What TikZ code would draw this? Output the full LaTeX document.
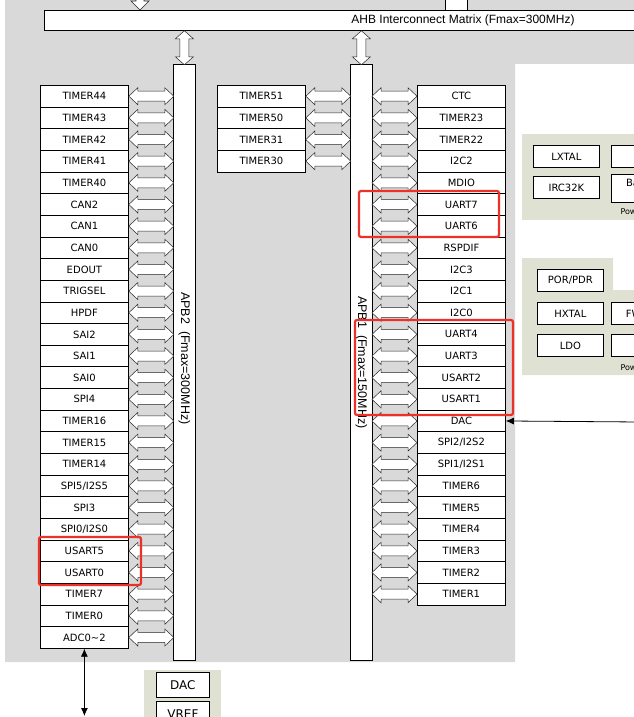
\documentclass[tikz,border=0pt]{standalone}
\usepackage{fontspec}
\setmainfont{Liberation Sans}
\newfontfamily\boxfont{DejaVu Sans}
\usetikzlibrary{arrows.meta}

\definecolor{bggray}{RGB}{217,217,217}
\definecolor{panelgreen}{RGB}{223,226,211}
\definecolor{hired}{RGB}{234,50,40}

\tikzset{
  periph/.style={draw=black, line width=0.8pt, fill=white, anchor=north west,
    minimum width=88pt, minimum height=21.65pt, inner sep=0pt,
    font=\boxfont\fontsize{10}{11}\selectfont},
  busbar/.style={draw=black, line width=0.8pt, fill=white, anchor=north west,
    minimum width=22pt, minimum height=596pt, inner sep=0pt},
  buslabel/.style={rotate=-90, font=\fontsize{12.5}{13}\selectfont},
  hollow/.style={draw=black!85, line width=0.5pt, fill=white},
  smallbox/.style={draw=black, line width=0.8pt, fill=white, anchor=north west,
    minimum width=66pt, minimum height=22pt, inner sep=0pt,
    font=\boxfont\fontsize{10}{11}\selectfont},
  hilite/.style={draw=hired, line width=2.2pt, rounded corners=2pt},
  tinytext/.style={font=\boxfont\fontsize{8}{9}\selectfont, anchor=west}
}

% hollow double arrows, horizontal and vertical
\newcommand\dualarrow[1]{\draw[hollow, shift={(#1)}] (0,0) -- (9,-8.5) -- (9,-5) -- (36,-5) -- (36,-8.5)
  -- (45,0) -- (36,8.5) -- (36,5) -- (9,5) -- (9,8.5) -- cycle;}
\newcommand\vdualarrow[1]{\draw[hollow, shift={(#1)}] (0,0) -- (-9,8) -- (-4.5,8) -- (-4.5,26) -- (-9,26)
  -- (0,34) -- (9,26) -- (4.5,26) -- (4.5,8) -- (9,8) -- cycle;}

\begin{document}
\begin{tikzpicture}[x=1pt, y=-1pt]
  \useasboundingbox (0,0) rectangle (634,717);
  \clip (0,0) rectangle (634,717);

  % background
  \fill[bggray] (5,-2) -- (640,-2) -- (640,64) -- (515,64) -- (515,662) -- (5,662) -- cycle;

  % top part
  \fill[white] (445,-5) rectangle (467,12);
  \draw[line width=0.8pt] (445,-5) -- (445,10) (467,10) -- (467,-5);
  \draw[hollow, line width=0.7pt] (136,-5) -- (136,1) -- (131,1) -- (140,10) -- (149,1) -- (144,1) -- (144,-5);
  \node[draw=black, line width=0.8pt, fill=white, anchor=north west,
    minimum width=620pt, minimum height=20pt, inner sep=0pt] (ahb) at (44,10) {};
  \node at (463,20) {\fontsize{12}{13}\selectfont AHB Interconnect Matrix (Fmax=300MHz)};

  % buses
  \node[busbar] (apb2) at (173,64) {};
  \node[busbar] (apb1) at (350,64) {};
  \node[buslabel] at ([yshift=4pt]apb2.center) {APB2~~(Fmax=300MHz)};
  \node[buslabel] at (apb1.center) {APB1~~(Fmax=150MHz)};
  \vdualarrow{apb2.north |- ahb.south}
  \vdualarrow{apb1.north |- ahb.south}

  % APB2 peripherals
  \foreach \name [count=\i] in {TIMER44,TIMER43,TIMER42,TIMER41,TIMER40,CAN2,CAN1,CAN0,
      EDOUT,TRIGSEL,HPDF,SAI2,SAI1,SAI0,SPI4,TIMER16,TIMER15,TIMER14,SPI5/I2S5,SPI3,
      SPI0/I2S0,USART5,USART0,TIMER7,TIMER0,ADC0\textasciitilde2} {
    \node[periph] (l\i) at (40,{85+(\i-1)*21.65}) {\name};
    \dualarrow{l\i.east}
  }
  \foreach \name [count=\i] in {TIMER51,TIMER50,TIMER31,TIMER30} {
    \node[periph] (m\i) at (217,{85+(\i-1)*21.65}) {\name};
    \dualarrow{m\i.east}
  }

  % APB1 peripherals
  \foreach \name [count=\i] in {CTC,TIMER23,TIMER22,I2C2,MDIO,UART7,UART6,RSPDIF,I2C3,I2C1,
      I2C0,UART4,UART3,USART2,USART1,DAC,SPI2/I2S2,SPI1/I2S1,TIMER6,TIMER5,TIMER4,
      TIMER3,TIMER2,TIMER1} {
    \node[periph] (r\i) at (417,{85+(\i-1)*21.65}) {\name};
    \dualarrow{[xshift=-45pt]r\i.west}
  }

  % highlights
  \draw[hilite] (39,537) rectangle (141,585);
  \draw[hilite] (359,191) rectangle (499,237);
  \draw[hilite] (355,320) rectangle (513,415);

  % right panels
  \fill[panelgreen] (522,134) rectangle (640,220);
  \node[smallbox] (lxtal) at (533,145) {LXTAL};
  \node[smallbox] (irc) at (533,176) {IRC32K};
  \node[smallbox] (rtc) at (611,145) {RTC};
  \node[smallbox, minimum height=28pt, align=center] (bkp) at (611,174) {Backup\\LDO};
  \node[tinytext] at (617,212) {Powered by VBAT};

  \fill[panelgreen] (522,258) -- (613,258) -- (613,290) -- (640,290) -- (640,375) -- (522,375) -- cycle;
  \node[smallbox] (por) at (537,269) {POR/PDR};
  \node[smallbox] (hxtal) at (537,302) {HXTAL};
  \node[smallbox] (fwdgt) at (611,302) {FWDGT};
  \node[smallbox] (ldo) at (537,334) {LDO};
  \node[smallbox] (pll) at (611,334) {PLLs};
  \node[tinytext] at (617,368) {Powered by VDD};

  \coordinate (dacin) at (640,422);
  \draw[line width=0.8pt, -{Latex[length=8pt, width=7pt]}] (dacin) -- (r16.east);

  % bottom
  \coordinate (adcout) at (l26.south |- 0,716);
  \draw[line width=0.8pt, {Latex[length=8pt, width=7pt]}-{Latex[length=8pt, width=7pt]}] (l26.south) -- (adcout);
  \fill[panelgreen] (144,670) rectangle (221,730);
  \node[smallbox, minimum width=53pt, minimum height=25pt, font=\boxfont\fontsize{12}{13}\selectfont] (dac) at (156,672) {DAC};
  \node[smallbox, minimum width=53pt, minimum height=25pt, font=\boxfont\fontsize{12}{13}\selectfont] (vref) at (156,701) {VREF};
\end{tikzpicture}
\end{document}
